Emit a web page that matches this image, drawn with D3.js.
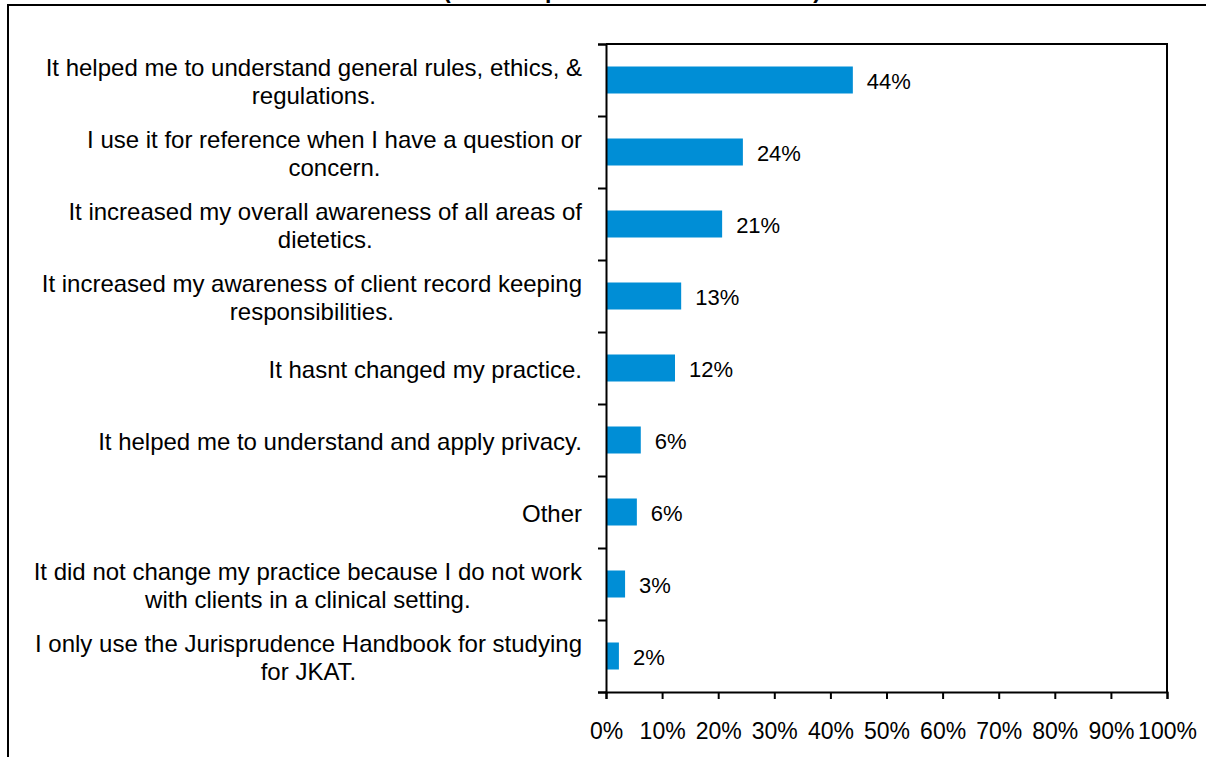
<!DOCTYPE html>
<html>
<head>
<meta charset="utf-8">
<script src="https://cdn.jsdelivr.net/npm/d3@7"></script>
<style>
  html, body { margin: 0; padding: 0; background: #fff; }
  svg { display: block; font-family: Arial, "Liberation Sans", sans-serif; }
</style>
</head>
<body>
<svg id="chart" width="1206" height="757"></svg>
<script>
// Survey answers (each entry may carry a manual line break)
const categories = [
  "It helped me to understand general rules, ethics, &\nregulations.",
  "I use it for reference when I have a question or\nconcern.",
  "It increased my overall awareness of all areas of\ndietetics.",
  "It increased my awareness of client record keeping\nresponsibilities.",
  "It hasnt changed my practice.",
  "It helped me to understand and apply privacy.",
  "Other",
  "It did not change my practice because I do not work\nwith clients in a clinical setting.",
  "I only use the Jurisprudence Handbook for studying\nfor JKAT."
];

// Share of respondents, percent
const values = [44.0, 24.4, 20.7, 13.4, 12.3, 6.2, 5.5, 3.4, 2.3];

// Axis ticks, percent
const xTicks = [0, 10, 20, 30, 40, 50, 60, 70, 80, 90, 100];

const titleText = "(Total respondents who answered)";

const svg = d3.select("#chart");
const W = 1206, H = 757;
const plot = { left: 606, right: 1167, top: 44, bottom: 692 };

svg.append("rect").attr("width", W).attr("height", H).attr("fill", "#fff");

// Title, running off the top edge of the page
svg.append("text")
  .attr("x", 632).attr("y", -2.5)
  .attr("text-anchor", "middle")
  .attr("font-size", 23).attr("font-weight", "bold")
  .text(titleText);

// Chart-area border (left and top edges)
svg.append("path")
  .attr("d", `M${W + 2},5 H8 V${H + 2}`)
  .attr("fill", "none").attr("stroke", "#000").attr("stroke-width", 2);

const x = d3.scaleLinear().domain([0, 100]).range([plot.left, plot.right]);
const y = d3.scaleBand().domain(d3.range(categories.length))
  .range([plot.top, plot.bottom])
  .paddingInner(0.625).paddingOuter(0.3125);
const yEdges = d3.scaleLinear().domain([0, categories.length]).range([plot.top, plot.bottom]);

// Plot frame: top and right edges
svg.append("path")
  .attr("d", `M${plot.left},${plot.top} H${plot.right} V${plot.bottom}`)
  .attr("fill", "none").attr("stroke", "#000").attr("stroke-width", 2);

// Bars
svg.append("g").selectAll("rect")
  .data(values)
  .join("rect")
  .attr("x", x(0))
  .attr("y", (d, i) => y(i))
  .attr("width", d => x(d) - x(0))
  .attr("height", y.bandwidth())
  .attr("fill", "#008ed6");

// Value labels
const fmt = d3.format(".0f");
svg.append("g").selectAll("text")
  .data(values)
  .join("text")
  .attr("x", d => x(d) + 14)
  .attr("y", (d, i) => y(i) + y.bandwidth() / 2 + 1)
  .attr("dominant-baseline", "central")
  .attr("font-size", 22)
  .attr("fill", "#000")
  .text(d => fmt(d) + "%");

// Category axis with ticks between categories
const yAxis = svg.append("g")
  .attr("transform", `translate(${plot.left},0)`)
  .call(d3.axisLeft(yEdges).tickValues(d3.range(categories.length + 1)).tickSize(8).tickFormat(""));
yAxis.selectAll("path, line").attr("stroke", "#000").attr("stroke-width", 2);

// Value axis
const xAxis = svg.append("g")
  .attr("transform", `translate(0,${plot.bottom})`)
  .call(d3.axisBottom(x).tickValues(xTicks).tickSize(7).tickPadding(24).tickFormat(d => d + "%"));
xAxis.selectAll("path, line").attr("stroke", "#000").attr("stroke-width", 2);
xAxis.selectAll("text")
  .attr("font-size", 23)
  .attr("font-family", 'Arial, "Liberation Sans", sans-serif')
  .attr("fill", "#000");

// Category labels: lines centred within a block that is right-aligned to the axis
const labelRight = plot.left - 24;
const lineH = 28;
const labels = svg.append("g").attr("font-size", 24).attr("fill", "#000");
categories.forEach((c, i) => {
  const lines = c.split("\n");
  const t = labels.append("text").attr("text-anchor", "middle");
  const cy = y(i) + y.bandwidth() / 2 + 1;
  const y0 = cy - (lines.length - 1) * lineH / 2;
  lines.forEach((ln, k) => {
    t.append("tspan").attr("y", y0 + k * lineH).attr("dominant-baseline", "central").text(ln);
  });
  const tsp = t.selectAll("tspan").nodes();
  const maxW = d3.max(tsp, n => n.getComputedTextLength());
  t.selectAll("tspan").attr("x", labelRight - maxW / 2);
});
</script>
</body>
</html>
